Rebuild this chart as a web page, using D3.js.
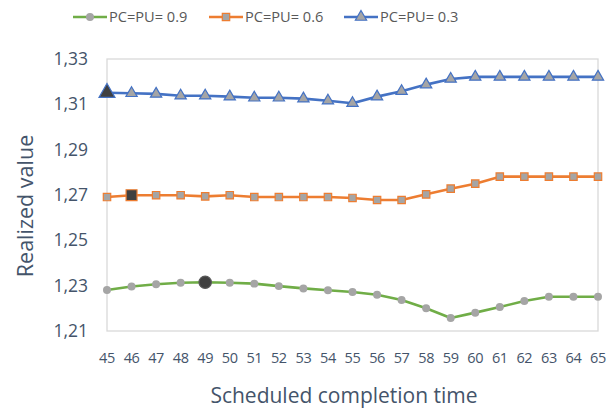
<!DOCTYPE html>
<meta charset="utf-8">
<script src="https://d3js.org/d3.v7.min.js"></script>
<style>
  body { margin: 0; background: #fff; }
  text { font-family: "Open Sans", sans-serif; }
</style>
<div id="chart"></div>
<script>
// x categories
var times = [45, 46, 47, 48, 49, 50, 51, 52, 53, 54, 55, 56, 57, 58, 59, 60, 61, 62, 63, 64, 65];

// series values
var pc09 = [1.2281, 1.2296, 1.2306, 1.2313, 1.2315, 1.2313, 1.2309, 1.2298, 1.2288, 1.2280, 1.2272,
            1.2260, 1.2237, 1.2200, 1.2157, 1.2181, 1.2206, 1.2232, 1.2251, 1.2251, 1.2251];
var pc06 = [1.2691, 1.2699, 1.2699, 1.2699, 1.2694, 1.2699, 1.2691, 1.2691, 1.2691, 1.2691, 1.2687,
            1.2678, 1.2678, 1.2703, 1.2728, 1.2750, 1.2781, 1.2781, 1.2781, 1.2781, 1.2781];
var pc03 = [1.3151, 1.3149, 1.3146, 1.3138, 1.3138, 1.3134, 1.3129, 1.3129, 1.3125, 1.3116, 1.3105,
            1.3134, 1.3158, 1.3187, 1.3212, 1.3221, 1.3221, 1.3221, 1.3221, 1.3221, 1.3221];

var yTicks = [1.21, 1.23, 1.25, 1.27, 1.29, 1.31, 1.33];

var series = [
  {name: "PC=PU= 0.9", values: pc09, color: "#70ad47", shape: "circle", hi: 4},
  {name: "PC=PU= 0.6", values: pc06, color: "#ed7d31", shape: "square", hi: 1},
  {name: "PC=PU= 0.3", values: pc03, color: "#4472c4", shape: "triangle", hi: 0}
];

var W = 616, H = 410;
var margin = {top: 59, right: 18, bottom: 79, left: 107};

var svg = d3.select("#chart").append("svg")
  .attr("width", W).attr("height", H);

var x = d3.scaleLinear().domain([45, 65]).range([margin.left, W - margin.right]);
var y = d3.scaleLinear().domain([1.21, 1.33]).range([H - margin.bottom, margin.top]);

// plot area border
svg.append("rect")
  .attr("x", x(45)).attr("y", y(1.33))
  .attr("width", x(65) - x(45)).attr("height", y(1.21) - y(1.33))
  .attr("fill", "none").attr("stroke", "#d9d9d9").attr("stroke-width", 1.3);

var textColor = "#44546a";

// y axis labels
svg.append("g").selectAll("text").data(yTicks).enter().append("text")
  .attr("x", 88).attr("y", function(d) { return y(d); })
  .attr("dy", "0.35em").attr("text-anchor", "end")
  .attr("font-size", 17.5).attr("fill", textColor)
  .text(function(d) { return d3.format(".2f")(d).replace(".", ","); });

// x axis labels
svg.append("g").selectAll("text").data(times).enter().append("text")
  .attr("x", function(d) { return x(d); }).attr("y", 358)
  .attr("dy", "0.35em").attr("text-anchor", "middle")
  .attr("font-size", 14.5).attr("letter-spacing", -0.4).attr("fill", textColor)
  .text(function(d) { return d; });

// axis titles
svg.append("text")
  .attr("x", 344).attr("y", 396).attr("dy", "0.35em")
  .attr("text-anchor", "middle").attr("font-size", 21).attr("fill", textColor)
  .text("Scheduled completion time");

svg.append("text")
  .attr("transform", "translate(25,206) rotate(-90)")
  .attr("dy", "0.35em").attr("text-anchor", "middle")
  .attr("font-size", 21.5).attr("fill", textColor)
  .text("Realized value");

function marker(g, shape, size, fill, stroke) {
  var sym = shape === "circle" ? d3.symbolCircle : shape === "square" ? d3.symbolSquare : d3.symbolTriangle;
  return g.append("path")
    .attr("d", d3.symbol().type(sym).size(size)())
    .attr("fill", fill)
    .attr("stroke", stroke)
    .attr("stroke-width", 1.2);
}

var sizes = {circle: 50, square: 55, triangle: 55};
var hiSizes = {circle: 120, square: 120, triangle: 110};

series.forEach(function(s) {
  var line = d3.line()
    .x(function(d, i) { return x(times[i]); })
    .y(function(d) { return y(d); });

  svg.append("path")
    .datum(s.values)
    .attr("fill", "none")
    .attr("stroke", s.color)
    .attr("stroke-width", 2.6)
    .attr("stroke-linejoin", "round")
    .attr("d", line);

  s.values.forEach(function(v, i) {
    var g = svg.append("g").attr("transform", "translate(" + x(times[i]) + "," + y(v) + ")");
    var border = s.shape === "circle" ? "none" : s.color;
    if (i === s.hi) {
      marker(g, s.shape, hiSizes[s.shape], "#404040", s.shape === "circle" ? "#595959" : s.color);
    } else {
      marker(g, s.shape, sizes[s.shape], "#a5a5a5", border);
    }
  });
});

// legend
var legendX = [73, 209, 344];
series.forEach(function(s, i) {
  var g = svg.append("g").attr("transform", "translate(" + legendX[i] + ",17)");
  g.append("line").attr("x1", 0).attr("x2", 34).attr("y1", 0).attr("y2", 0)
    .attr("stroke", s.color).attr("stroke-width", 2.6);
  var m = g.append("g").attr("transform", "translate(17,0)");
  marker(m, s.shape, sizes[s.shape], "#a5a5a5", s.shape === "circle" ? "none" : s.color);
  g.append("text").attr("x", 36).attr("y", 0).attr("dy", "0.35em")
    .attr("font-size", 14.6).attr("fill", "#595959")
    .text(s.name);
});
</script>
